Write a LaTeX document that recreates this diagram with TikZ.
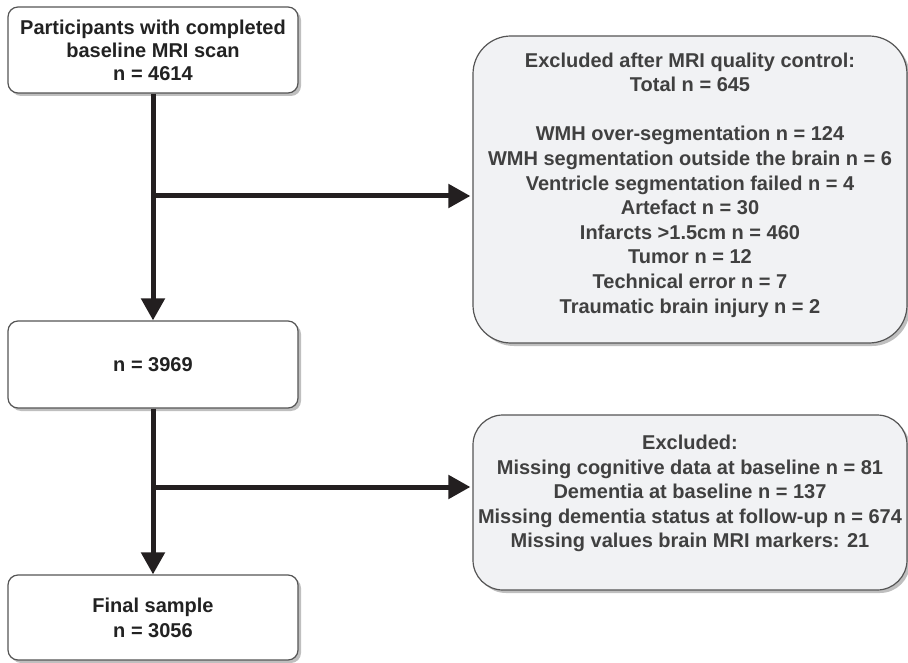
\documentclass[tikz,border=0pt]{standalone}
\usepackage{fontspec}
\setmainfont{Liberation Sans}
\usetikzlibrary{arrows.meta,shadows}
\definecolor{lineblk}{HTML}{231F20}
\definecolor{txtdark}{HTML}{222222}
\definecolor{txtgray}{HTML}{404040}
\definecolor{boxfill}{HTML}{F1F2F4}
\definecolor{boxedge}{HTML}{555555}
\tikzset{
  leftbox/.style={draw=boxedge, line width=1.2pt, fill=white, rounded corners=10pt,
    minimum width=290pt, align=center, text=txtdark, inner sep=0pt,
    font=\fontsize{20}{23}\selectfont\bfseries,
    drop shadow={shadow xshift=3pt, shadow yshift=-3pt, fill=gray!50, opacity=1}},
  rightbox/.style={draw=boxedge, line width=1.2pt, fill=boxfill,
    minimum width=434pt, inner sep=0pt,
    drop shadow={shadow xshift=3pt, shadow yshift=-3pt, fill=gray!50, opacity=1}},
  righttext/.style={align=center, text=txtgray, inner sep=0pt,
    font=\fontsize{20}{24.6}\selectfont\bfseries},
  flow/.style={draw=lineblk, line width=5pt, -{Triangle[width=23pt,length=22pt]}},
}
\begin{document}
\begin{tikzpicture}[x=1pt,y=-1pt]
\useasboundingbox (0,0) rectangle (908,663);
\node[leftbox, minimum height=86pt] (b1) at (153,50) {Participants with completed\\baseline MRI scan\\n = 4614};
\node[leftbox, minimum height=87pt] (b2) at (153,364.5) {n = 3969};
\node[leftbox, minimum height=85pt, font=\fontsize{20}{25}\selectfont\bfseries] (b3) at (153,617.5) {\raisebox{0pt}{}Final sample\\n = 3056};
\node[rightbox, rounded corners=38pt, minimum height=307pt] (r1) at (690,189.5) {};
\node[righttext] (r1t) at (690,185) {%
Excluded after MRI quality control:\\Total n = 645\\[24.6pt]WMH over-segmentation n = 124\\WMH segmentation outside the brain n = 6\\Ventricle segmentation failed n = 4\\Artefact n = 30\\Infarcts >1.5cm n = 460\\Tumor n = 12\\Technical error n = 7\\Traumatic brain injury n = 2};
\node[rightbox, rounded corners=30pt, minimum height=175pt] (r2) at (690,502.5) {};
\node[righttext] (r2t) at (690,493.5) {%
Excluded:\\Missing cognitive data at baseline n = 81\\Dementia at baseline n = 137\\Missing dementia status at follow-up n = 674\\Missing values brain MRI markers: 21};
\coordinate (j1) at (153,196);
\coordinate (j2) at (153,487);
\draw[flow] (b1.south) -- (b2.north);
\draw[flow] (j1) -- ([xshift=-2pt]j1 -| r1.west);
\draw[flow] (b2.south) -- (b3.north);
\draw[flow] (j2) -- ([xshift=-2pt]j2 -| r2.west);
\end{tikzpicture}
\end{document}
